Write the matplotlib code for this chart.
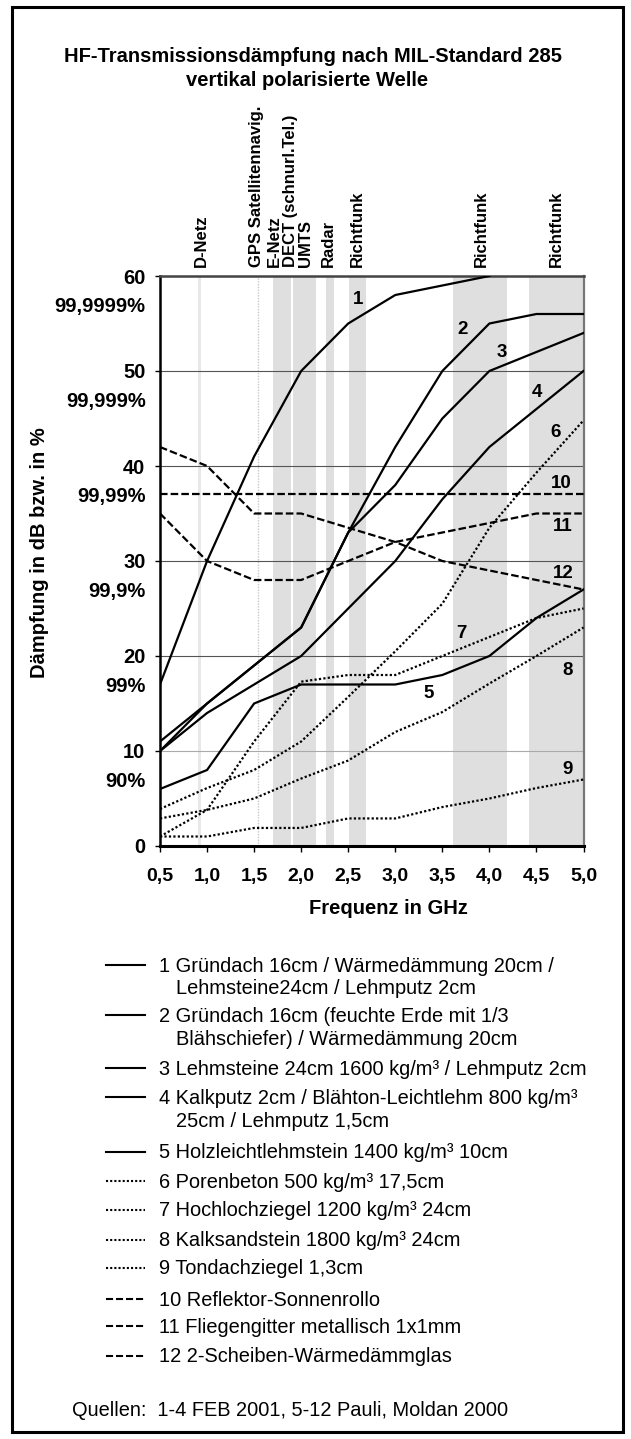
import numpy as np
import matplotlib
matplotlib.use("Agg")
import matplotlib.pyplot as plt
from matplotlib.patches import Rectangle
from matplotlib.lines import Line2D

plt.rcParams['font.family'] = ['Liberation Sans', 'DejaVu Sans']

W, H = 631, 1439

# data (dB)
freq = [0.5, 1.0, 1.5, 2.0, 2.5, 3.0, 3.5, 4.0, 4.5, 5.0]
xtick_labels = ['0,5', '1,0', '1,5', '2,0', '2,5', '3,0', '3,5', '4,0', '4,5', '5,0']
s1 = [17, 30, 41, 50, 55, 58, 59, 60, np.nan, np.nan]
s2 = [11, 15, 19, 23, 33, 42, 50, 55, 56, 56]
s3 = [10, 15, 19, 23, 33, 38, 45, 50, 52, 54]
s4 = [10, 14, 17, 20, 25, 30, 36.5, 42, 46, 50]
s5 = [6, 8, 15, 17, 17, 17, 18, 20, 24, 27]
s6 = [3.9, 6.1, 8, 11, 15.7, 20.5, 25.5, 33.5, 39.3, 44.8]
s7 = [1, 3.8, 11, 17.3, 18, 18, 20, 22, 24, 25]
s8 = [2.9, 3.8, 5, 7.1, 9, 12, 14.1, 17.1, 20, 23]
s9 = [1, 1, 1.9, 1.9, 2.9, 2.9, 4.1, 5, 6.1, 7]
s10 = [37, 37, 37, 37, 37, 37, 37, 37, 37, 37]
s11 = [35, 30, 28, 28, 30, 32, 33, 34, 35, 35]
s12 = [42, 40, 35, 35, 33.5, 32, 30, 29, 28, 27]
series = [s1, s2, s3, s4, s5, s6, s7, s8, s9, s10, s11, s12]

# number labels inside the plot
num_labels = ['1', '2', '3', '4', '5', '6', '7', '8', '9', '10', '11', '12']
num_x = [2.6, 3.71, 4.13, 4.5, 3.35, 4.7, 3.7, 4.83, 4.83, 4.76, 4.78, 4.78]
num_y = [57.5, 54.4, 51.9, 47.7, 16.1, 43.5, 22.4, 18.5, 8.0, 38.2, 33.6, 28.7]

# frequency bands (GHz)
band_start = [0.90, 1.705, 1.918, 2.266, 2.503, 3.614, 4.419]
band_end = [0.935, 1.894, 2.16, 2.344, 2.688, 4.19, 5.0]
gps_line = 1.537
band_names = ['D-Netz', 'GPS Satellitennavig.', 'E-Netz', 'DECT (schnurl.Tel.)', 'UMTS',
              'Radar', 'Richtfunk', 'Richtfunk', 'Richtfunk']
band_label_x = [0.936, 1.525, 1.72, 1.886, 2.05, 2.294, 2.6, 3.92, 4.71]

yticks = [0, 10, 20, 30, 40, 50, 60]
pct_labels = ['', '90%', '99%', '99,9%', '99,99%', '99,999%', '99,9999%']

legend_text = [
    ['1 Gründach 16cm / Wärmedämmung 20cm /', 'Lehmsteine24cm / Lehmputz 2cm'],
    ['2 Gründach 16cm (feuchte Erde mit 1/3', 'Blähschiefer) / Wärmedämmung 20cm'],
    ['3 Lehmsteine 24cm 1600 kg/m³ / Lehmputz 2cm'],
    ['4 Kalkputz 2cm / Blähton-Leichtlehm 800 kg/m³', '25cm / Lehmputz 1,5cm'],
    ['5 Holzleichtlehmstein 1400 kg/m³ 10cm'],
    ['6 Porenbeton 500 kg/m³ 17,5cm'],
    ['7 Hochlochziegel 1200 kg/m³ 24cm'],
    ['8 Kalksandstein 1800 kg/m³ 24cm'],
    ['9 Tondachziegel 1,3cm'],
    ['10 Reflektor-Sonnenrollo'],
    ['11 Fliegengitter metallisch 1x1mm'],
    ['12 2-Scheiben-Wärmedämmglas'],
]
legend_y = [966, 1016.5, 1069.5, 1098.5, 1153, 1182, 1211, 1241, 1269, 1300, 1327.5, 1357]

solid = '-'
dotted = (0, (1, 1))
dashed = (0, (3.4, 1.4))
styles = [solid] * 5 + [dotted] * 4 + [dashed] * 3

fig = plt.figure(figsize=(W / 100, H / 100), dpi=100)
ax = fig.add_axes([160 / W, 1 - 846 / H, 423.5 / W, 570 / H])

for i, (a, b) in enumerate(zip(band_start, band_end)):
    ax.axvspan(a, b, color='#e8e8e8' if i == 0 else '#dfdfdf', lw=0, zorder=0)
ax.axvline(gps_line, color='#c8c8c8', lw=1, ls=(0, (1, 1)), zorder=0)

for s, st in zip(series, styles):
    ax.plot(freq, s, color='black', lw=1.6, ls=st, zorder=3)

for t, x, y in zip(num_labels, num_x, num_y):
    ax.text(x, y, t, ha='center', va='center', fontsize=13.5, fontweight='bold', zorder=4)

ax.set_xlim(0.5, 5.0)
ax.set_ylim(0, 60)
ax.set_xticks(freq)
ax.set_xticklabels(xtick_labels, fontsize=14, fontweight='bold')
ax.set_yticks(yticks)
ax.set_yticklabels([str(v) for v in yticks], fontsize=14.5, fontweight='bold')
ax.tick_params(axis='x', length=4.5, width=1, pad=11)
ax.tick_params(axis='y', length=3.5, width=1, pad=7)

ax.grid(axis='y', color='#555555', lw=0.8, zorder=1)
ax.yaxis.get_gridlines()[1].set_color('#aaaaaa')
ax.set_axisbelow(True)

ax.spines['left'].set_linewidth(1.8)
ax.spines['bottom'].set_linewidth(2.2)
ax.spines['top'].set_linewidth(1.8)
ax.spines['top'].set_color('#444444')
ax.spines['right'].set_linewidth(1.6)
ax.spines['right'].set_color('#777777')

ytr = ax.get_yaxis_transform()
for v, p in zip(yticks, pct_labels):
    if p:
        ax.text(-0.0338, v - 3.2, p, transform=ytr, ha='right', va='center',
                fontsize=14.5, fontweight='bold')

xtr = ax.get_xaxis_transform()
for name, x in zip(band_names, band_label_x):
    ax.text(x, 1.016, name, transform=xtr, rotation=90, ha='center', va='bottom',
            fontsize=12, fontweight='bold')

# titles and axis labels
fig.text(313.5 / W, 1 - 57 / H, 'HF-Transmissionsdämpfung nach MIL-Standard 285',
         ha='center', va='center', fontsize=14.5, fontweight='bold')
fig.text(307 / W, 1 - 80 / H, 'vertikal polarisierte Welle',
         ha='center', va='center', fontsize=14.5, fontweight='bold')
fig.text(388 / W, 1 - 909 / H, 'Frequenz in GHz', ha='center', va='center',
         fontsize=14.5, fontweight='bold')
fig.text(40 / W, 1 - 553 / H, 'Dämpfung in dB bzw. in %', ha='center', va='center',
         rotation=90, fontsize=14.5, fontweight='bold')

# legend drawn by hand
for lines, y, st in zip(legend_text, legend_y, styles):
    fy = 1 - y / H
    fig.add_artist(Line2D([106 / W, 145 / W], [fy + 1.5 / H, fy + 1.5 / H],
                          color='black', lw=1.5, ls=st))
    fig.text(159 / W, fy, lines[0], ha='left', va='center', fontsize=14.4)
    if len(lines) > 1:
        fig.text(176 / W, 1 - (y + 23) / H, lines[1], ha='left', va='center', fontsize=14.4)

fig.text(72 / W, 1 - 1411 / H, 'Quellen:  1-4 FEB 2001, 5-12 Pauli, Moldan 2000',
         ha='left', va='center', fontsize=14.4)

fig.add_artist(Rectangle((12 / W, 1 - 1432 / H), 611 / W, 1425 / H, transform=fig.transFigure,
                         fill=False, lw=2.2, edgecolor='black'))

fig.savefig('out.png', dpi=100)
